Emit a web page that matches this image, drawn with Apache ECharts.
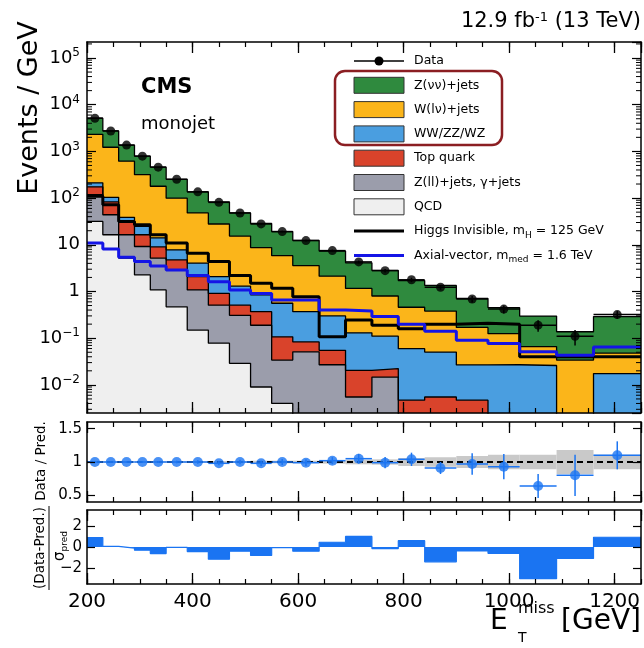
<!DOCTYPE html>
<html>
<head>
<meta charset="utf-8">
<script src="https://cdn.jsdelivr.net/npm/echarts@6.0.0/dist/echarts.min.js"></script>
<style>
html,body{margin:0;padding:0;background:#ffffff;}
#chart{width:644px;height:648px;}
</style>
</head>
<body>
<div id="chart"></div>
<script>
// ---------------- data ----------------
const binEdges = [200,230,260,290,320,350,390,430,470,510,550,590,640,690,740,790,840,900,960,1020,1090,1160,1250];

const dataVals = [5130,2740,1365,790,460,253,136,81,48,28,19.2,12.3,7.5,4.3,2.79,1.78,1.23,0.69,0.42,0.19,0.11,0.32];
const dataErr  = [13,9.6,6.7,5.1,3.9,2.5,1.8,1.4,1.1,0.84,0.69,0.5,0.39,0.29,0.24,0.19,0.14,0.11,0.084,0.052,0.04,0.06];

const qcd   = [31.6,16.4,5.2,2.26,1.08,0.47,0.149,0.078,0.029,0.009,0.004,0,0,0,0,0,0,0,0,0,0,0];
const zll   = [87.4,27.6,11.2,6.94,4.12,2.43,0.93,0.43,0.28,0.18,0.03,0.051,0.027,0.0055,0.0147,0,0,0,0,0,0,0];
const topq  = [55,38.8,15.3,7.2,3.8,1.85,1.0,0.40,0.20,0.18,0.073,0.032,0.028,0.0149,0.0076,0.0047,0.0055,0.0047,0,0,0,0];
const vv    = [38,21.2,7.0,8.4,5.1,3.05,1.97,1.17,0.79,0.48,0.453,0.287,0.245,0.11,0.088,0.055,0.045,0.022,0.027,0.026,0,0.0175];
const wjets = [2108,1121,579,293,165,92,44,25.8,14.1,7.85,5.3,3.22,1.83,1.03,0.69,0.40,0.33,0.143,0.098,0.040,0.034,0.0305];
const znn   = [2810,1515,747,472,281,153,88,54.8,32.6,19.9,13.34,8.81,5.22,2.94,2.02,1.25,0.97,0.54,0.325,0.231,0.1035,0.242];

const higgs = [109,72,31.7,27,16.4,10.9,6.6,4.4,2.2,1.5,1.17,0.77,0.107,0.244,0.19,0.16,0.2,0.21,0.2,0.04,0.04,0.04];
const axial = [10.9,8.1,5.4,4.4,3.5,2.9,2.2,1.62,1.08,0.91,0.66,0.66,0.40,0.38,0.29,0.2,0.14,0.09,0.077,0.051,0.043,0.065];

const ratioVals = [1.00,1.00,1.00,1.00,1.00,1.00,1.00,0.98,1.00,0.98,1.00,0.99,1.02,1.05,0.99,1.04,0.91,0.97,0.93,0.64,0.80,1.10];
const ratioErr  = [0.005,0.007,0.01,0.012,0.015,0.02,0.025,0.03,0.035,0.04,0.045,0.05,0.053,0.072,0.084,0.1,0.09,0.16,0.19,0.18,0.31,0.21];
const predUnc   = [0.01,0.01,0.01,0.01,0.01,0.012,0.013,0.015,0.015,0.02,0.02,0.02,0.025,0.035,0.04,0.06,0.07,0.09,0.11,0.11,0.18,0.11];

const pullVals = [0.9,0.05,-0.1,-0.3,-0.62,-0.03,-0.43,-1.15,-0.4,-0.8,-0.05,-0.4,0.45,1.0,-0.15,0.6,-1.4,-0.38,-0.6,-3.0,-1.08,0.92];

const ratioTicks = [0.5,1,1.5];
const pullTicks = [-2,0,2];

// ---------------- styling ----------------
const FONT = 'DejaVu Sans';
const C = {znn:'#2f8a3e', wj:'#fbb51a', vv:'#4a9ee0', top:'#d9432b', zll:'#9b9dab', qcd:'#efefef',
           axial:'#1414e6', ratio:'#1c75f2', pull:'#1a74f2', band:'#c9c9c9', box:'#8b1e22'};
const Y_MIN = 0.0025, Y_MAX = 2.2e5, FLOOR = 1e-5;
const nb = binEdges.length - 1;

function stepData(vals){
  const d = vals.map((v,i)=>[binEdges[i], Math.max(v, FLOOR)]);
  d.push([binEdges[nb], Math.max(vals[nb-1], FLOOR)]);
  return d;
}
// cumulative stack levels
const comps = [qcd, zll, topq, vv, wjets, znn];
const cum = [];
let acc = new Array(nb).fill(0);
comps.forEach(c => { acc = acc.map((a,i)=>a + c[i]); cum.push(acc.slice()); });
const layerColors = [C.qcd, C.zll, C.top, C.vv, C.wj, C.znn];

function hist(vals, color){
  return {type:'line', xAxisIndex:0, yAxisIndex:0, step:'end', symbol:'none', silent:true,
    data: stepData(vals), lineStyle:{color:'#000', width:1.3}, areaStyle:{color, opacity:1, origin:'start'}, z:2};
}

function xAxes(gi, labels){
  const base = {type:'value', gridIndex:gi, min:200, max:1250, splitLine:{show:false}, z:10};
  const line = {show:true, onZero:false, lineStyle:{color:'#000', width:1.5}};
  return [
    {...base, position:'bottom', interval:200, axisLine:line,
      axisTick:{show:true, inside:true, length:11, lineStyle:{color:'#000', width:1.3}},
      axisLabel:{show:labels, color:'#000', fontFamily:FONT, fontSize:20, margin:8, showMaxLabel:false,
        formatter:v=>String(v)}},
    {...base, position:'bottom', interval:50, axisLine:{show:false, onZero:false},
      axisTick:{show:true, inside:true, length:5, lineStyle:{color:'#000', width:1.2}}, axisLabel:{show:false}},
    {...base, position:'top', interval:200, axisLine:line,
      axisTick:{show:true, inside:true, length:11, lineStyle:{color:'#000', width:1.3}}, axisLabel:{show:false}},
    {...base, position:'top', interval:50, axisLine:{show:false, onZero:false},
      axisTick:{show:true, inside:true, length:5, lineStyle:{color:'#000', width:1.2}}, axisLabel:{show:false}}
  ];
}
const axLine = {show:true, onZero:false, lineStyle:{color:'#000', width:1.5}};
function logFmt(v){
  const e = Math.round(Math.log10(v));
  if (e === 0) return '1';
  if (e === 1) return '10';
  return '10{sup|' + (e < 0 ? '\u2212' : '') + Math.abs(e) + '}';
}
const yAxes = [
  {type:'log', logBase:10, gridIndex:0, min:Y_MIN, max:Y_MAX, position:'left', z:10, splitLine:{show:false},
    axisLine:axLine, axisTick:{show:true, inside:true, length:9, lineStyle:{color:'#000', width:1.2}},
    axisLabel:{color:'#000', fontFamily:FONT, fontSize:18, margin:7, showMinLabel:false, showMaxLabel:false,
      formatter:logFmt, rich:{sup:{fontFamily:FONT, fontSize:12, padding:[0,0,10,0], color:'#000'}}}},
  {type:'log', logBase:10, gridIndex:0, min:Y_MIN, max:Y_MAX, position:'right', z:10, splitLine:{show:false},
    axisLine:axLine, axisTick:{show:true, inside:true, length:9, lineStyle:{color:'#000', width:1.2}}, axisLabel:{show:false}},
  {type:'value', gridIndex:1, min:0.4, max:1.6, position:'left', z:10, splitLine:{show:false}, axisLine:axLine,
    axisTick:{show:true, inside:true, length:8, customValues:ratioTicks, lineStyle:{color:'#000', width:1.2}},
    axisLabel:{color:'#000', fontFamily:FONT, fontSize:15, margin:5, customValues:ratioTicks, formatter:v=>String(v)}},
  {type:'value', gridIndex:1, min:0.4, max:1.6, position:'right', z:10, splitLine:{show:false}, axisLine:axLine,
    axisTick:{show:true, inside:true, length:8, customValues:ratioTicks, lineStyle:{color:'#000', width:1.2}}, axisLabel:{show:false}},
  {type:'value', gridIndex:2, min:-3.5, max:3.5, position:'left', z:10, splitLine:{show:false}, axisLine:axLine,
    axisTick:{show:true, inside:true, length:8, customValues:pullTicks, lineStyle:{color:'#000', width:1.2}},
    axisLabel:{color:'#000', fontFamily:FONT, fontSize:15, margin:5, customValues:pullTicks,
      formatter:v=> v < 0 ? '\u2212' + Math.abs(v) : String(v)}},
  {type:'value', gridIndex:2, min:-3.5, max:3.5, position:'right', z:10, splitLine:{show:false}, axisLine:axLine,
    axisTick:{show:true, inside:true, length:8, customValues:pullTicks, lineStyle:{color:'#000', width:1.2}}, axisLabel:{show:false}}
];

// log minor ticks (axis decoration)
const logMinor = [];
for (let e = -3; e <= 5; e++) for (let m = 2; m <= 9; m++) {
  const v = m * Math.pow(10, e);
  if (v > Y_MIN && v < Y_MAX) logMinor.push([200, v]);
}

const series = [];
// stacked histogram: draw from the top level down
for (let k = cum.length - 1; k >= 0; k--) series.push(hist(cum[k], layerColors[k]));
// signals
series.push({type:'line', xAxisIndex:0, yAxisIndex:0, step:'end', symbol:'none', silent:true, z:3,
  data: stepData(higgs), lineStyle:{color:'#000', width:3}});
series.push({type:'line', xAxisIndex:0, yAxisIndex:0, step:'end', symbol:'none', silent:true, z:3,
  data: stepData(axial), lineStyle:{color:C.axial, width:3}});
// data error bars
function errRender(color, floor){
  return function(params, api){
    const x = api.value(0), y = api.value(1);
    const c = api.coord([x, y]);
    const lo = api.coord([x, Math.max(api.value(2), floor)]);
    const hi = api.coord([x, api.value(3)]);
    const l = api.coord([api.value(4), y]);
    const r = api.coord([api.value(5), y]);
    return {type:'group', children:[
      {type:'line', shape:{x1:c[0], y1:lo[1], x2:c[0], y2:hi[1]}, style:{stroke:color, lineWidth:1.5}},
      {type:'line', shape:{x1:l[0], y1:c[1], x2:r[0], y2:c[1]}, style:{stroke:color, lineWidth:1.5}}
    ]};
  };
}
const centers = binEdges.slice(0, nb).map((e,i)=>(e + binEdges[i+1]) / 2);
series.push({type:'custom', xAxisIndex:0, yAxisIndex:0, z:4, silent:true,
  data: dataVals.map((v,i)=>[centers[i], v, v - dataErr[i], v + dataErr[i], binEdges[i], binEdges[i+1]]),
  renderItem: errRender('#000', FLOOR)});
series.push({type:'scatter', xAxisIndex:0, yAxisIndex:0, z:5, silent:true, symbolSize:9,
  itemStyle:{color:'#000'}, data: dataVals.map((v,i)=>[centers[i], v])});
// log minor ticks
series.push({type:'custom', xAxisIndex:0, yAxisIndex:0, z:11, silent:true, data: logMinor,
  renderItem:(p, api)=>{
    const y = api.coord([200, api.value(1)])[1];
    const xl = api.coord([200, 1])[0], xr = api.coord([1250, 1])[0];
    return {type:'group', children:[
      {type:'line', shape:{x1:xl, y1:y, x2:xl+5, y2:y}, style:{stroke:'#000', lineWidth:1}},
      {type:'line', shape:{x1:xr-5, y1:y, x2:xr, y2:y}, style:{stroke:'#000', lineWidth:1}}
    ]};
  }});

// ratio panel
series.push({type:'custom', xAxisIndex:4, yAxisIndex:2, z:2, silent:true,
  data: predUnc.map((u,i)=>[binEdges[i], binEdges[i+1], u]),
  renderItem:(p, api)=>{
    const a = api.coord([api.value(0), 1 + api.value(2)]);
    const b = api.coord([api.value(1), 1 - api.value(2)]);
    return {type:'rect', shape:{x:a[0], y:a[1], width:b[0]-a[0], height:b[1]-a[1]}, style:{fill:C.band}};
  }});
series.push({type:'line', xAxisIndex:4, yAxisIndex:2, z:3, silent:true, symbol:'none',
  data:[[200,1],[1250,1]], lineStyle:{color:'#000', width:2, type:[6,4]}});
series.push({type:'custom', xAxisIndex:4, yAxisIndex:2, z:4, silent:true,
  data: ratioVals.map((v,i)=>[centers[i], v, v - ratioErr[i], v + ratioErr[i], binEdges[i], binEdges[i+1]]),
  renderItem: errRender(C.ratio, 0.4)});
series.push({type:'scatter', xAxisIndex:4, yAxisIndex:2, z:5, silent:true, symbolSize:10,
  itemStyle:{color:C.ratio}, data: ratioVals.map((v,i)=>[centers[i], v])});

// pull panel
series.push({type:'line', xAxisIndex:8, yAxisIndex:4, z:2, silent:true, step:'end', symbol:'none',
  data: (function(){ const d = pullVals.map((v,i)=>[binEdges[i], v]); d.push([binEdges[nb], pullVals[nb-1]]); return d; })(),
  lineStyle:{color:C.pull, width:1.2}, areaStyle:{color:C.pull, opacity:1}});

// ---------------- text / legend ----------------
const graphic = [];
function txt(x, y, text, size, opts){
  return Object.assign({type:'text', x, y, z:50, silent:true,
    style:Object.assign({text, fontFamily:FONT, fontSize:size, fill:'#000',
      textAlign:'left', textVerticalAlign:'middle', align:'left', verticalAlign:'middle'}, (opts && opts.style) || {})},
    (opts && opts.el) || {});
}
const subRich = {sub:{fontFamily:FONT, fontSize:9, lineHeight:9, padding:[9,0,0,0], fill:'#000'}};
const supRich = {sup:{fontFamily:FONT, fontSize:13, lineHeight:13, padding:[0,0,9,0], fill:'#000'}};

graphic.push(txt(641, 22, '12.9 fb{sup|-1} (13 TeV)', 21, {style:{textAlign:'right', align:'right', rich:supRich}}));
graphic.push(txt(141, 88, 'CMS', 21, {style:{fontWeight:'bold'}}));
graphic.push(txt(141, 124, 'monojet', 18));

const legendEntries = [
  {label:'Data', kind:'data'},
  {label:'Z(\u03bd\u03bd)+jets', kind:'box', color:C.znn},
  {label:'W(l\u03bd)+jets', kind:'box', color:C.wj},
  {label:'WW/ZZ/WZ', kind:'box', color:C.vv},
  {label:'Top quark', kind:'box', color:C.top},
  {label:'Z(ll)+jets, \u03b3+jets', kind:'box', color:C.zll},
  {label:'QCD', kind:'box', color:C.qcd},
  {label:'Higgs Invisible, m{sub|H} = 125 GeV', kind:'line', color:'#000'},
  {label:'Axial-vector, m{sub|med} = 1.6 TeV', kind:'line', color:C.axial}
];
legendEntries.forEach((e, i) => {
  const y = 61 + i * 24.3;
  if (e.kind === 'box') {
    graphic.push({type:'rect', z:50, silent:true, shape:{x:354, y:y-8, width:50, height:16},
      style:{fill:e.color, stroke:'#333', lineWidth:1}});
  } else if (e.kind === 'line') {
    graphic.push({type:'line', z:50, silent:true, shape:{x1:354, y1:y, x2:404, y2:y}, style:{stroke:e.color, lineWidth:3}});
  } else {
    graphic.push({type:'line', z:50, silent:true, shape:{x1:354, y1:y, x2:404, y2:y}, style:{stroke:'#000', lineWidth:1.5}});
    graphic.push({type:'circle', z:51, silent:true, shape:{cx:379, cy:y, r:4.5}, style:{fill:'#000'}});
  }
  graphic.push(txt(414, y, e.label, 12.5, {style:{rich:subRich}}));
});
graphic.push({type:'rect', z:52, silent:true, shape:{x:335, y:71, width:167, height:74, r:10},
  style:{fill:'none', stroke:C.box, lineWidth:2.5}});

// axis titles
graphic.push(txt(30, 108, 'Events / GeV', 27, {style:{textAlign:'center', align:'center'}, el:{rotation:Math.PI/2}}));
graphic.push(txt(41, 461, 'Data / Pred.', 13.5, {style:{textAlign:'center', align:'center'}, el:{rotation:Math.PI/2}}));
graphic.push(txt(40, 548, '(Data-Pred.)', 13.5, {style:{textAlign:'center', align:'center'}, el:{rotation:Math.PI/2}}));
graphic.push({type:'line', z:50, silent:true, shape:{x1:49, y1:506, x2:49, y2:590}, style:{stroke:'#000', lineWidth:1}});
graphic.push(txt(60, 546, '\u03c3{sub|pred}', 15, {style:{textAlign:'center', align:'center', rich:subRich}, el:{rotation:Math.PI/2}}));
graphic.push(txt(490, 622, 'E', 28));
graphic.push(txt(518, 609, 'miss', 16));
graphic.push(txt(518, 638, 'T', 14));
graphic.push(txt(641, 622, '[GeV]', 28, {style:{textAlign:'right', align:'right'}}));

const option = {
  animation:false,
  backgroundColor:'#ffffff',
  grid:[
    {left:87, right:3, top:42, height:371, outerBoundsMode:'none', containLabel:false},
    {left:87, right:3, top:422, height:80, outerBoundsMode:'none', containLabel:false},
    {left:87, right:3, top:510, height:74, outerBoundsMode:'none', containLabel:false}
  ],
  xAxis:[...xAxes(0,false), ...xAxes(1,false), ...xAxes(2,true)],
  yAxis:yAxes,
  series,
  graphic
};
const chart = echarts.init(document.getElementById('chart'), null, {renderer:'canvas'});
chart.setOption(option);
</script>
</body>
</html>
